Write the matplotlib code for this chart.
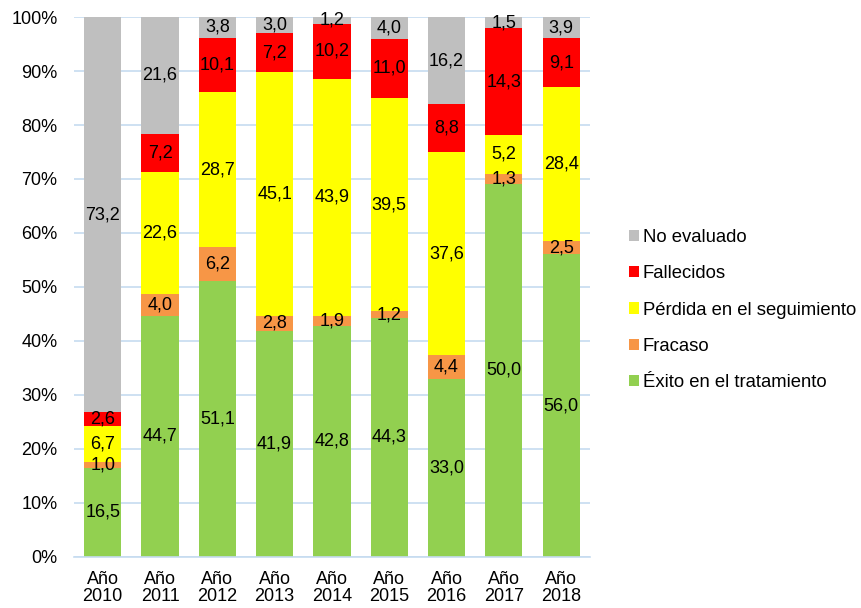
import numpy as np
import matplotlib.pyplot as plt

plt.rcParams['font.family'] = ['Liberation Sans', 'DejaVu Sans']

years = ["Año\n2010", "Año\n2011", "Año\n2012", "Año\n2013", "Año\n2014",
         "Año\n2015", "Año\n2016", "Año\n2017", "Año\n2018"]
exito = [16.5, 44.7, 51.1, 41.9, 42.8, 44.3, 33.0, 50.0, 56.0]
fracaso = [1.0, 4.0, 6.2, 2.8, 1.9, 1.2, 4.4, 1.3, 2.5]
perdida = [6.7, 22.6, 28.7, 45.1, 43.9, 39.5, 37.6, 5.2, 28.4]
fallecidos = [2.6, 7.2, 10.1, 7.2, 10.2, 11.0, 8.8, 14.3, 9.1]
no_evaluado = [73.2, 21.6, 3.8, 3.0, 1.2, 4.0, 16.2, 1.5, 3.9]

series = [("Éxito en el tratamiento", exito, "#92D050"),
          ("Fracaso", fracaso, "#F79646"),
          ("Pérdida en el seguimiento", perdida, "#FFFF00"),
          ("Fallecidos", fallecidos, "#FF0000"),
          ("No evaluado", no_evaluado, "#BFBFBF")]

vals = np.array([s[1] for s in series])
totals = vals.sum(axis=0)
pct = vals / totals * 100

fig = plt.figure(figsize=(8.61, 6.08), dpi=100)
ax = fig.add_axes([0.086, 0.084, 0.599, 0.888])

x = np.arange(len(years))
bottom = np.zeros(len(years))
handles = []
for i, (name, v, col) in enumerate(series):
    b = ax.bar(x, pct[i], 0.65, bottom=bottom, color=col, label=name, zorder=2)
    handles.append(b)
    for j in range(len(years)):
        ax.text(x[j], bottom[j] + pct[i][j] / 2, f"{v[j]:.1f}".replace(".", ","),
                ha="center", va="center", fontsize=13, color="black", zorder=3)
    bottom += pct[i]

ax.set_xlim(-0.5, len(years) - 0.5)
ax.set_ylim(0, 100)
ax.set_yticks(np.arange(0, 101, 10))
ax.set_yticklabels([f"{t}%" for t in range(0, 101, 10)], fontsize=13)
ax.set_xticks(x)
ax.set_xticklabels(years, fontsize=13, linespacing=1.0)
ax.grid(axis="y", color="#C6DCF0", linewidth=1.2, zorder=0)
for s in ["top", "right", "left"]:
    ax.spines[s].set_visible(False)
ax.spines["bottom"].set_color("#C6DCF0")
ax.spines["bottom"].set_linewidth(1.2)
ax.tick_params(axis="y", length=0, pad=12)
ax.tick_params(axis="x", length=0, pad=10)

fig.legend(handles[::-1], [s[0] for s in series][::-1], loc="center left",
           bbox_to_anchor=(0.722, 0.49), frameon=False, fontsize=13.3,
           handlelength=0.55, handleheight=0.55, handletextpad=0.2, labelspacing=1.05,
           borderaxespad=0)

fig.savefig("out.png", dpi=100)
